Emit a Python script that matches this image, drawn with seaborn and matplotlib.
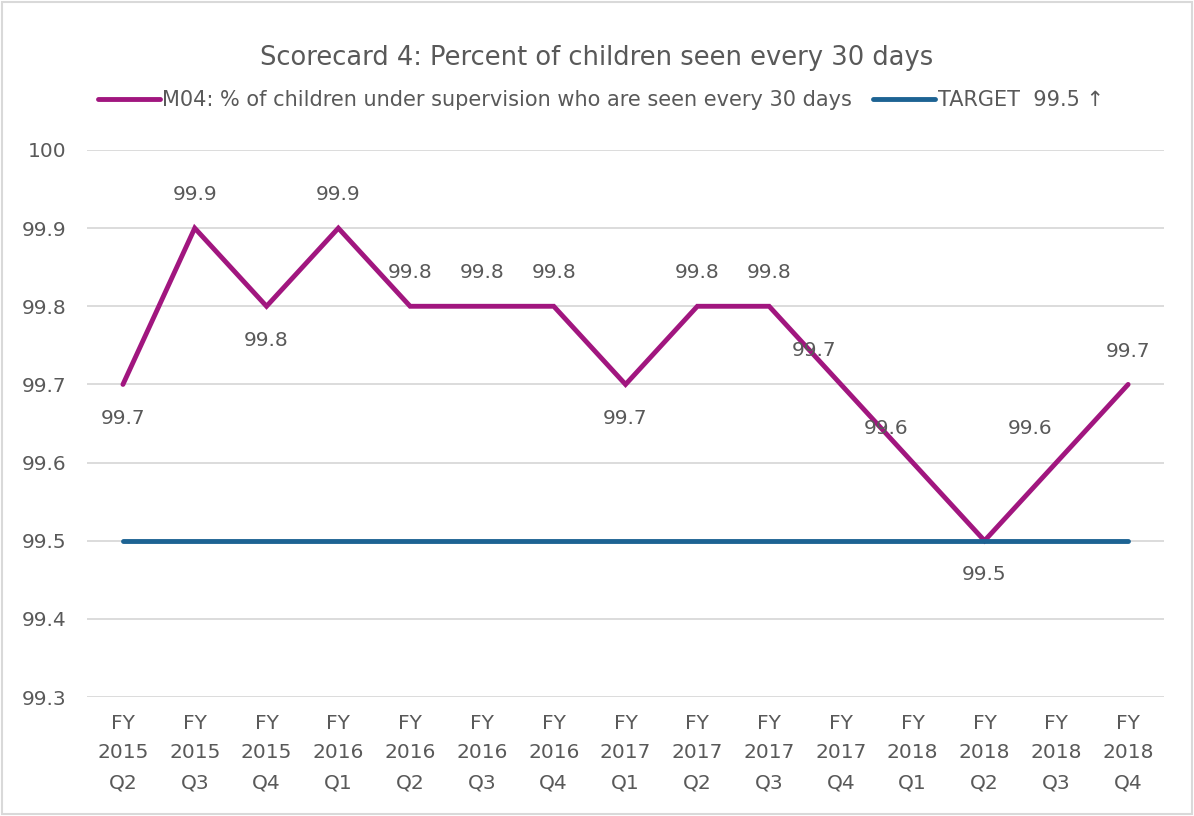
import matplotlib
matplotlib.use("Agg")
import matplotlib.pyplot as plt
import seaborn as sns
import pandas as pd
from matplotlib.patches import Rectangle

# Data
quarters = ["FY\n2015\nQ2", "FY\n2015\nQ3", "FY\n2015\nQ4", "FY\n2016\nQ1", "FY\n2016\nQ2",
            "FY\n2016\nQ3", "FY\n2016\nQ4", "FY\n2017\nQ1", "FY\n2017\nQ2", "FY\n2017\nQ3",
            "FY\n2017\nQ4", "FY\n2018\nQ1", "FY\n2018\nQ2", "FY\n2018\nQ3", "FY\n2018\nQ4"]
m04_values = [99.7, 99.9, 99.8, 99.9, 99.8, 99.8, 99.8, 99.7, 99.8, 99.8, 99.7, 99.6, 99.5, 99.6, 99.7]
target_values = [99.5] * 15
y_ticks = [99.3, 99.4, 99.5, 99.6, 99.7, 99.8, 99.9, 100.0]
y_tick_labels = ["99.3", "99.4", "99.5", "99.6", "99.7", "99.8", "99.9", "100"]

# where each data label sits relative to its point
label_place = ["below", "above", "below", "above", "above", "above", "above", "below",
               "above", "above", "left", "left", "below", "left", "above"]

M04_NAME = "M04: % of children under supervision who are seen every 30 days"
TARGET_NAME = "TARGET  99.5 \u2191"
PURPLE = "#A1167F"
BLUE = "#1D6393"
TEXT = "#595959"

df = pd.DataFrame({"pos": range(len(quarters)), "m04": m04_values, "target": target_values})

sns.set_style("white")
plt.rcParams["font.family"] = ["DejaVu Sans"]

fig = plt.figure(figsize=(11.94, 8.16), dpi=100)
ax = fig.add_axes([0.0729, 0.1458, 0.9020, 0.6704])

sns.lineplot(data=df, x="pos", y="m04", ax=ax, color=PURPLE, linewidth=3.5,
             label=M04_NAME, solid_joinstyle="miter", solid_capstyle="round")
sns.lineplot(data=df, x="pos", y="target", ax=ax, color=BLUE, linewidth=3.5,
             label=TARGET_NAME, solid_capstyle="round")

ax.set_xlim(-0.5, len(quarters) - 0.5)
ax.set_ylim(99.3, 100.0)
ax.set_yticks(y_ticks)
ax.set_yticklabels(y_tick_labels)
ax.set_xticks(range(len(quarters)))
ax.set_xticklabels(quarters, linespacing=1.72)
ax.tick_params(axis="x", length=0, pad=12, labelsize=14.5, labelcolor=TEXT)
ax.tick_params(axis="y", length=0, pad=15, labelsize=14.5, labelcolor=TEXT)
ax.set_xlabel("")
ax.set_ylabel("")
ax.grid(axis="y", color="#D9D9D9", linewidth=1.3)
ax.set_axisbelow(True)
for s in ax.spines.values():
    s.set_visible(False)

for i, (v, place) in enumerate(zip(m04_values, label_place)):
    if place == "above":
        off = (0, 24)
    elif place == "below":
        off = (0, -24.5)
    else:
        off = (-19, 24.5)
    ax.annotate(f"{v:.1f}", (i, v), xytext=off, textcoords="offset points",
                ha="center", va="center", fontsize=14.5, color=TEXT)

ax.get_legend().remove()
handles, labels = ax.get_legend_handles_labels()
fig.legend(handles, labels, loc="center", bbox_to_anchor=(0.503, 0.877), ncol=2,
           frameon=False, fontsize=15, labelcolor=TEXT, handlelength=3.0,
           handletextpad=0.1, columnspacing=1.0)

fig.suptitle("Scorecard 4: Percent of children seen every 30 days", y=0.945,
             fontsize=18.5, color=TEXT)

fig.patches.append(Rectangle((0.002, 0.002), 0.996, 0.996, transform=fig.transFigure,
                             fill=False, edgecolor="#D9D9D9", linewidth=1.5))

fig.savefig("out.png", dpi=100, facecolor="white")
